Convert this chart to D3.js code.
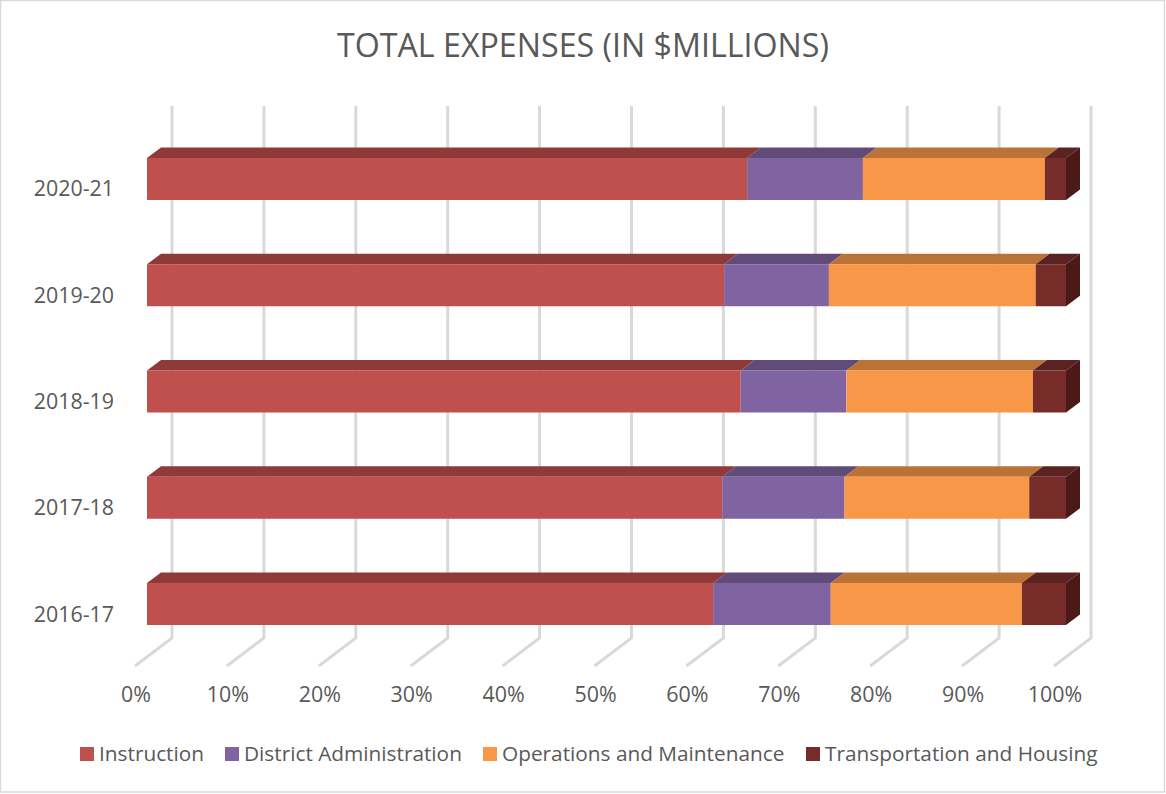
<!DOCTYPE html>
<html lang="en">
<head>
<meta charset="UTF-8" />
<title>Total Expenses</title>
<style>
  html, body { margin: 0; padding: 0; background: #fff; }
  svg { display: block; font-family: "Open Sans", sans-serif; }
</style>
</head>
<body>
<script src="https://d3js.org/d3.v7.min.js"></script>
<script>
const years = ["2016-17", "2017-18", "2018-19", "2019-20", "2020-21"];
const seriesNames = ["Instruction", "District Administration", "Operations and Maintenance", "Transportation and Housing"];
const instruction = [61.6, 62.6, 64.6, 62.8, 65.3];
const districtAdmin = [12.8, 13.3, 11.5, 11.4, 12.6];
const operations = [20.8, 20.1, 20.3, 22.5, 19.8];
const transportation = [4.8, 4.0, 3.6, 3.3, 2.3];
const ticks = [0, 10, 20, 30, 40, 50, 60, 70, 80, 90, 100];

const front = ["#C0504D", "#8064A2", "#F99748", "#772C2A"];
const top_ = ["#8F3A38", "#604B79", "#BB7236", "#5A2220"];
const sideColor = "#4B1A18";
const textColor = "#595959";

const width = 1166, height = 794;
const depthX = 14, depthY = 10.5;   // fake 3d offset of the bars
const wallX = 25, wallTop = 106, wallBottom = 638;

const x = d3.scaleLinear().domain([0, 100]).range([147, 1066]);
const y = d3.scaleBand().domain(years.slice().reverse()).range([126.1, 656.9]).paddingInner(0.6047).paddingOuter(0.3);

const rows = years.map((year, i) => ({
  year,
  [seriesNames[0]]: instruction[i],
  [seriesNames[1]]: districtAdmin[i],
  [seriesNames[2]]: operations[i],
  [seriesNames[3]]: transportation[i]
}));
const stacked = d3.stack().keys(seriesNames)(rows);

const svg = d3.select("body").append("svg")
  .attr("width", width)
  .attr("height", height)
  .attr("viewBox", [0, 0, width, height]);

svg.append("rect")
  .attr("x", 0.5).attr("y", 0.5)
  .attr("width", width - 2).attr("height", height - 2.5)
  .attr("fill", "#fff")
  .attr("stroke", "#d9d9d9")
  .attr("stroke-width", 1.5);

svg.append("text")
  .attr("x", 583).attr("y", 57)
  .attr("text-anchor", "middle")
  .attr("font-size", 32.2)
  .attr("fill", textColor)
  .text("TOTAL EXPENSES (IN $MILLIONS)");

// back wall + floor lines
const grid = svg.append("g").attr("fill", "none").attr("stroke", "#d9d9d9").attr("stroke-width", 3);
grid.selectAll("path")
  .data(ticks)
  .join("path")
  .attr("d", d => {
    const p = d3.path();
    p.moveTo(x(d) + wallX, wallTop);
    p.lineTo(x(d) + wallX, wallBottom);
    p.lineTo(x(d) - 12, wallBottom + 28);
    return p.toString();
  });

// bars, bottom row first
const bars = svg.append("g");
stacked.forEach((layer, s) => {
  const g = bars.append("g");
  g.selectAll("path.top")
    .data(layer)
    .join("path")
    .attr("class", "top")
    .attr("fill", top_[s])
    .attr("d", d => {
      const yr = y(d.data.year);
      const p = d3.path();
      p.moveTo(x(d[0]), yr);
      p.lineTo(x(d[0]) + depthX, yr - depthY);
      p.lineTo(x(d[1]) + depthX, yr - depthY);
      p.lineTo(x(d[1]), yr);
      p.closePath();
      return p.toString();
    });
  g.selectAll("rect")
    .data(layer)
    .join("rect")
    .attr("x", d => x(d[0]))
    .attr("y", d => y(d.data.year))
    .attr("width", d => x(d[1]) - x(d[0]))
    .attr("height", y.bandwidth())
    .attr("fill", front[s]);
});

// right side of the last segment
bars.append("g").selectAll("path")
  .data(stacked[stacked.length - 1])
  .join("path")
  .attr("fill", sideColor)
  .attr("d", d => {
    const yr = y(d.data.year), b = y.bandwidth();
    const p = d3.path();
    p.moveTo(x(d[1]), yr);
    p.lineTo(x(d[1]) + depthX, yr - depthY);
    p.lineTo(x(d[1]) + depthX, yr + b - depthY);
    p.lineTo(x(d[1]), yr + b);
    p.closePath();
    return p.toString();
  });

// labels sit a bit below the bar centre, as in the original 3d chart
svg.append("g").selectAll("text")
  .data(years)
  .join("text")
  .attr("x", 114)
  .attr("y", d => y(d) + y.bandwidth() / 2 + 10)
  .attr("dy", "0.35em")
  .attr("text-anchor", "end")
  .attr("font-size", 21.4)
  .attr("fill", textColor)
  .text(d => d);

svg.append("g").selectAll("text")
  .data(ticks)
  .join("text")
  .attr("x", d => x(d) - 11)
  .attr("y", 702)
  .attr("text-anchor", "middle")
  .attr("font-size", 21.4)
  .attr("fill", textColor)
  .text(d => d + "%");

// legend
const legendX = [80, 225, 483, 806];
const legend = svg.append("g").selectAll("g")
  .data(seriesNames)
  .join("g")
  .attr("transform", (d, i) => `translate(${legendX[i]},747)`);
legend.append("rect")
  .attr("width", 14).attr("height", 14)
  .attr("fill", (d, i) => front[i]);
legend.append("text")
  .attr("x", 19).attr("y", 14)
  .attr("font-size", 20.8)
  .attr("fill", textColor)
  .text(d => d);
</script>
</body>
</html>
